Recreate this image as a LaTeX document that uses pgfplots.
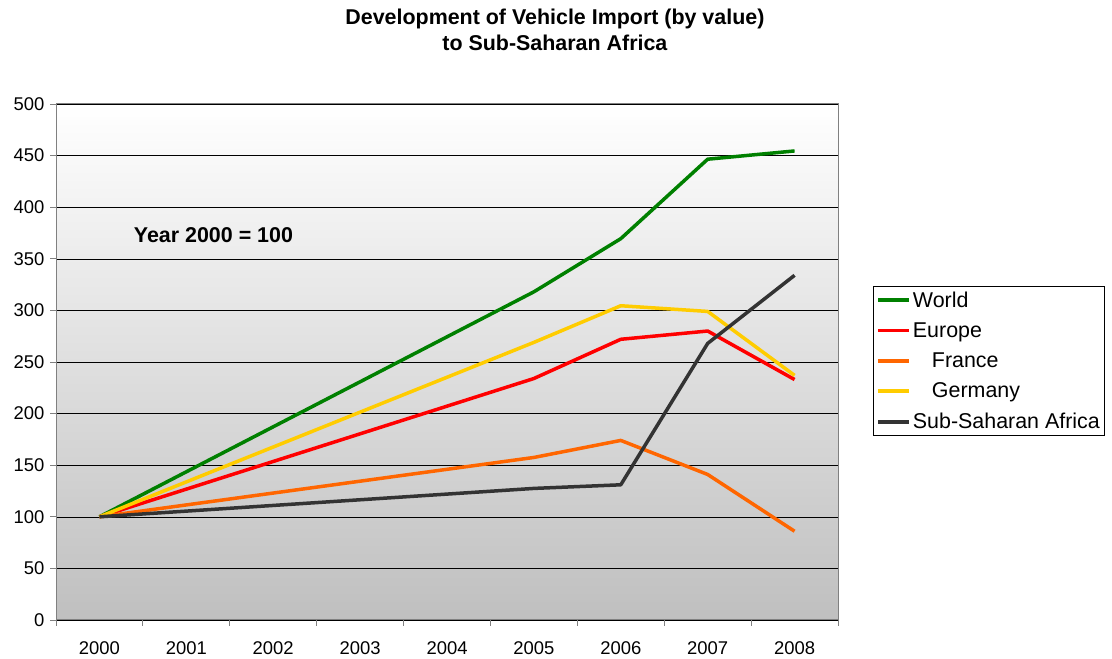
\documentclass[border=0pt]{standalone}
\usepackage{pgfplots}
\pgfplotsset{compat=1.18}
\usepackage{fontspec}
\setmainfont{Liberation Sans}
\definecolor{cWorld}{HTML}{008000}
\definecolor{cEurope}{HTML}{FF0000}
\definecolor{cFrance}{HTML}{FF6600}
\definecolor{cGermany}{HTML}{FFCC00}
\definecolor{cSSA}{HTML}{333333}
\definecolor{frame}{HTML}{808080}
\begin{document}
\begin{tikzpicture}[x=1bp,y=1bp]
\path[use as bounding box] (0,0) rectangle (1112,659);
\begin{axis}[
    at={(56bp,39bp)}, anchor=south west,
    scale only axis,
    width=782bp, height=516bp,
    xmin=-0.5, xmax=8.5,
    ymin=0, ymax=500,
    xtick={0,...,8},
    xticklabels={2000,2001,2002,2003,2004,2005,2006,2007,2008},
    minor xtick={-0.5,0.5,...,8.5},
    ytick={0,50,...,500},
    major x tick style={draw=none},
    tick align=outside, tick pos=left,
    major tick length=6bp, minor tick length=6bp,
    tick style={frame, line width=0.8pt},
    axis line style={frame, line width=1pt},
    ymajorgrids,
    grid style={black, line width=0.5pt},
    axis background/.style={top color=white, bottom color=white!75!black},
    /pgf/number format/assume math mode=true,
    /pgf/number format/1000 sep={},
    ticklabel style={font=\fontsize{18.5}{20}\selectfont},
    xticklabel style={yshift=-12bp},
    yticklabel style={xshift=-2bp},
    title={Development of Vehicle Import (by value)\\to Sub-Saharan Africa},
    title style={at={(0.638,1)}, anchor=south, yshift=44bp, align=center,
        font=\bfseries\fontsize{21.5}{26}\selectfont},
    legend style={at={(1.0448,0.647)}, anchor=north west,
        draw=black, line width=0.8pt, font=\fontsize{21.5}{24}\selectfont,
        row sep=10bp, inner xsep=3bp, inner ysep=3bp,
        nodes={inner xsep=2bp}},
    legend cell align=left,
    legend image code/.code={\draw[#1] (0bp,0bp) -- (31bp,0bp);},
    every axis plot/.append style={line width=3.5bp, line join=round},
]
\addplot[cWorld] coordinates {(0,100) (5,318) (6,369.5) (7,446.5) (8,454.5)};
\addlegendentry{World}
\addplot[cEurope] coordinates {(0,100) (5,234) (6,272) (7,280) (8,233)};
\addlegendentry{Europe}
\addplot[cFrance] coordinates {(0,100) (5,157.5) (6,174) (7,141) (8,86)};
\addlegendentry{\hspace{19bp}France}
\addplot[cGermany] coordinates {(0,100) (5,269) (6,304.5) (7,299) (8,237)};
\addlegendentry{\hspace{19bp}Germany}
\addplot[cSSA] coordinates {(0,100) (5,127.5) (6,131) (7,268) (8,334)};
\addlegendentry{Sub-Saharan Africa}
\node[anchor=west, inner sep=0pt, font=\bfseries\fontsize{21.5}{24}\selectfont] at (axis cs:0.395,373) {Year 2000 = 100};
\end{axis}
\end{tikzpicture}
\end{document}
